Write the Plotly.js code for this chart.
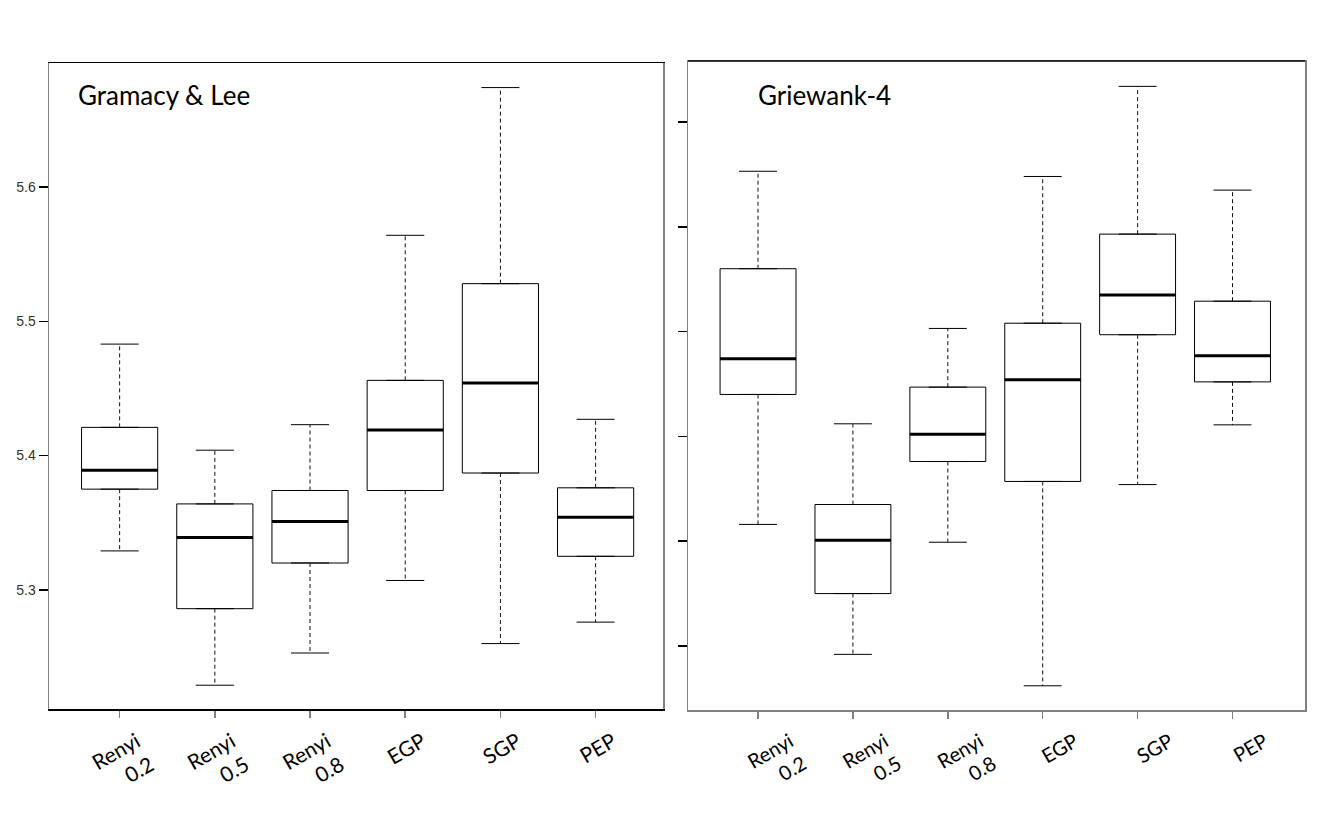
<!DOCTYPE html>
<html>
<head>
<meta charset="utf-8">
<script src="https://cdn.plot.ly/plotly-3.0.1.min.js"></script>
<style>html,body{margin:0;padding:0;background:#fff}#chart{width:1329px;height:834px}</style>
</head>
<body>
<div id="chart"></div>
<script>
// Categories (tick labels)
const categories = ['Renyi<br>0.2', 'Renyi<br>0.5', 'Renyi<br>0.8', 'EGP', 'SGP', 'PEP'];

// Panel 1: Gramacy & Lee
const glLow  = [5.329, 5.229, 5.253, 5.307, 5.260, 5.276];
const glQ1   = [5.375, 5.286, 5.320, 5.374, 5.387, 5.325];
const glMed  = [5.389, 5.339, 5.351, 5.419, 5.454, 5.354];
const glQ3   = [5.421, 5.364, 5.374, 5.456, 5.528, 5.376];
const glHigh = [5.483, 5.404, 5.423, 5.564, 5.674, 5.427];

// Panel 2: Griewank-4 (axis labels cut off in the original)
const gwLow  = [0.0716, 0.0592, 0.0699, 0.0562, 0.0754, 0.0811];
const gwQ1   = [0.0840, 0.0650, 0.0776, 0.0757, 0.0897, 0.0852];
const gwMed  = [0.0874, 0.0701, 0.0802, 0.0854, 0.0935, 0.0877];
const gwQ3   = [0.0960, 0.0735, 0.0847, 0.0908, 0.0993, 0.0929];
const gwHigh = [0.1053, 0.0812, 0.0903, 0.1048, 0.1134, 0.1035];

const panelTitles = ['Gramacy & Lee', 'Griewank-4'];
const glTicks = [5.3, 5.4, 5.5, 5.6];
const gwTicks = [0.06, 0.07, 0.08, 0.09, 0.10, 0.11];

const idx = categories.map((_, i) => i);
const BOXW = 0.8, CAPW = 0.4;

function panelTraces(xa, ya, low, q1, med, q3, high) {
  const traces = [];
  traces.push({
    type: 'box', xaxis: xa, yaxis: ya, x: idx,
    q1: q1, median: med, q3: q3, lowerfence: q1, upperfence: q3,
    width: BOXW, fillcolor: '#ffffff',
    line: {color: '#000000', width: 1}, boxpoints: false, showlegend: false, hoverinfo: 'skip'
  });
  const wx = [], wy = [], cx = [], cy = [], mx = [], my = [];
  idx.forEach(i => {
    wx.push(i, i, null, i, i, null);
    wy.push(q3[i], high[i], null, q1[i], low[i], null);
    cx.push(i - CAPW / 2, i + CAPW / 2, null, i - CAPW / 2, i + CAPW / 2, null);
    cy.push(high[i], high[i], null, low[i], low[i], null);
    mx.push(i - BOXW / 2, i + BOXW / 2, null);
    my.push(med[i], med[i], null);
  });
  traces.push({type: 'scatter', mode: 'lines', xaxis: xa, yaxis: ya, x: wx, y: wy,
    line: {color: '#111', width: 1, dash: '4px,3px'}, showlegend: false, hoverinfo: 'skip'});
  traces.push({type: 'scatter', mode: 'lines', xaxis: xa, yaxis: ya, x: cx, y: cy,
    line: {color: '#000', width: 1}, showlegend: false, hoverinfo: 'skip'});
  traces.push({type: 'scatter', mode: 'lines', xaxis: xa, yaxis: ya, x: mx, y: my,
    line: {color: '#000', width: 3}, showlegend: false, hoverinfo: 'skip'});
  return traces;
}

const data = [
  ...panelTraces('x', 'y', glLow, glQ1, glMed, glQ3, glHigh),
  ...panelTraces('x2', 'y2', gwLow, gwQ1, gwMed, gwQ3, gwHigh)
];

const xBase = {
  tickmode: 'array', tickvals: idx, ticktext: categories, tickangle: -30,
  tickfont: {family: 'Lato, Carlito, sans-serif', size: 21, color: '#000'},
  ticklabelstandoff: 4,
  ticks: 'outside', ticklen: 7, tickcolor: '#808080', tickwidth: 1.5,
  showline: true, mirror: true, linewidth: 1.5,
  showgrid: false, zeroline: false, fixedrange: true
};

const layout = {
  width: 1329, height: 834,
  margin: {l: 0, r: 0, t: 0, b: 0},
  paper_bgcolor: '#fff', plot_bgcolor: '#fff',
  showlegend: false,
  xaxis: Object.assign({}, xBase, {domain: [49 / 1329, 663 / 1329], range: [-0.742, 5.708],
    linecolor: '#000', anchor: 'y', ticklabelshift: 17}),
  yaxis: {domain: [125 / 834, 771 / 834], range: [5.2113, 5.6923], anchor: 'x',
    tickmode: 'array', tickvals: glTicks, ticktext: glTicks.map(v => v.toFixed(1)),
    ticks: 'outside', ticklen: 9, tickcolor: '#000', tickwidth: 1.5,
    tickfont: {family: 'Liberation Sans, Arial, sans-serif', size: 14, color: '#333'},
    showline: true, mirror: true, linecolor: '#808080', linewidth: 1.5,
    showgrid: false, zeroline: false, fixedrange: true},
  xaxis2: Object.assign({}, xBase, {domain: [688 / 1329, 1305 / 1329], range: [-0.738, 5.764],
    linecolor: '#808080', anchor: 'y2', ticklabelshift: 32,
    tickfont: {family: 'Lato, Carlito, sans-serif', size: 20, color: '#000'}}),
  yaxis2: {domain: [124 / 834, 773 / 834], range: [0.05389, 0.11582], anchor: 'x2',
    tickmode: 'array', tickvals: gwTicks, showticklabels: false,
    ticks: 'outside', ticklen: 9, tickcolor: '#000', tickwidth: 1.5,
    showline: true, mirror: true, linecolor: '#808080', linewidth: 1.5,
    showgrid: false, zeroline: false, fixedrange: true},
  shapes: [
    {type: 'line', xref: 'x2 domain', yref: 'y2 domain', x0: 0, x1: 1, y0: 1, y1: 1,
     line: {color: '#000', width: 1.5}}
  ],
  annotations: [
    {text: panelTitles[0], xref: 'paper', yref: 'paper', x: 76 / 1329, y: 1 - 95 / 834,
     xanchor: 'left', yanchor: 'middle', showarrow: false,
     font: {family: 'Lato, Carlito, sans-serif', size: 26, color: '#000'}},
    {text: panelTitles[1], xref: 'paper', yref: 'paper', x: 756 / 1329, y: 1 - 95 / 834,
     xanchor: 'left', yanchor: 'middle', showarrow: false,
     font: {family: 'Lato, Carlito, sans-serif', size: 26, color: '#000'}}
  ]
};

Plotly.newPlot('chart', data, layout, {displayModeBar: false, staticPlot: true});
</script>
</body>
</html>
